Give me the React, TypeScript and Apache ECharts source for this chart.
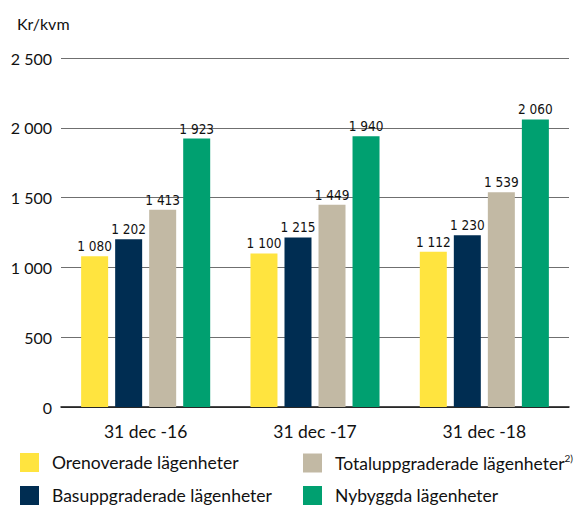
import React, { useEffect, useRef } from "react";
import * as echarts from "echarts";

const categories = ["31 dec -16", "31 dec -17", "31 dec -18"];
const seriesNames = [
  "Orenoverade lägenheter",
  "Basuppgraderade lägenheter",
  "Totaluppgraderade lägenheter",
  "Nybyggda lägenheter",
];
const orenoverade = [1080, 1100, 1112];
const basuppgraderade = [1202, 1215, 1230];
const totaluppgraderade = [1413, 1449, 1539];
const nybyggda = [1923, 1940, 2060];
const colors = ["#FFE43F", "#002D52", "#C2B9A4", "#00A070"];

const fmt = (v: number) => {
  const s = String(Math.round(v));
  return s.replace(/\B(?=(\d{3})+(?!\d))/g, " ");
};

const FONT = "Lato, 'Open Sans', sans-serif";
const LABEL_FONT = "'Liberation Sans Narrow', 'DejaVu Sans Condensed', sans-serif";

const legendPos = [
  { left: 20, top: 453 },
  { left: 20, top: 486 },
  { left: 303, top: 453 },
  { left: 303, top: 486 },
];

export default function App() {
  const ref = useRef<HTMLDivElement>(null);
  useEffect(() => {
    if (!ref.current) return;
    const chart = echarts.init(ref.current, null, { renderer: "svg" });
    const data = [orenoverade, basuppgraderade, totaluppgraderade, nybyggda];
    chart.setOption({
      animation: false,
      textStyle: { fontFamily: FONT },
      title: {
        text: "Kr/kvm",
        left: 12,
        top: 10,
        textStyle: { fontFamily: FONT, fontSize: 16, fontWeight: "normal", color: "#111" },
      },
      grid: { left: 61, right: 8, top: 58, bottom: 100 },
      legend: seriesNames.map((name, i) => ({
        data: [name],
        left: legendPos[i].left,
        top: legendPos[i].top,
        padding: 0,
        itemWidth: 19,
        itemHeight: 19,
        icon: "rect",
        formatter: (n: string) => (n === seriesNames[2] ? n + "{sup|2)}" : n),
        textStyle: {
          fontFamily: FONT,
          fontSize: 17.5,
          color: "#111",
          padding: [0, 0, 0, 8],
          rich: {
            sup: { fontSize: 10, verticalAlign: "top", padding: [0, 0, 10, 0], fontFamily: FONT, color: "#111" },
          },
        },
      })),
      xAxis: {
        type: "category",
        data: categories,
        axisTick: { show: false },
        axisLine: { lineStyle: { color: "#111", width: 1.5 } },
        axisLabel: { fontFamily: FONT, fontSize: 17.5, color: "#111", margin: 15 },
      },
      yAxis: {
        type: "value",
        min: 0,
        max: 2500,
        interval: 500,
        axisLabel: { fontFamily: FONT, fontSize: 16, color: "#111", margin: 9, formatter: fmt },
        splitLine: { lineStyle: { color: "#6f6f6f", width: 1 } },
        axisLine: { show: false },
        axisTick: { show: false },
      },
      series: seriesNames.map((name, i) => ({
        name,
        type: "bar",
        data: data[i],
        barWidth: 27,
        barGap: "26%",
        itemStyle: { color: colors[i] },
        label: {
          show: true,
          position: "top",
          distance: 3,
          fontFamily: LABEL_FONT,
          fontSize: 13.5,
          color: "#111",
          formatter: (p: any) => fmt(p.value),
        },
      })),
    });
    return () => chart.dispose();
  }, []);
  return (
    <div
      ref={ref}
      style={{ position: "absolute", left: 0, top: 0, width: 577, height: 507 }}
    />
  );
}
